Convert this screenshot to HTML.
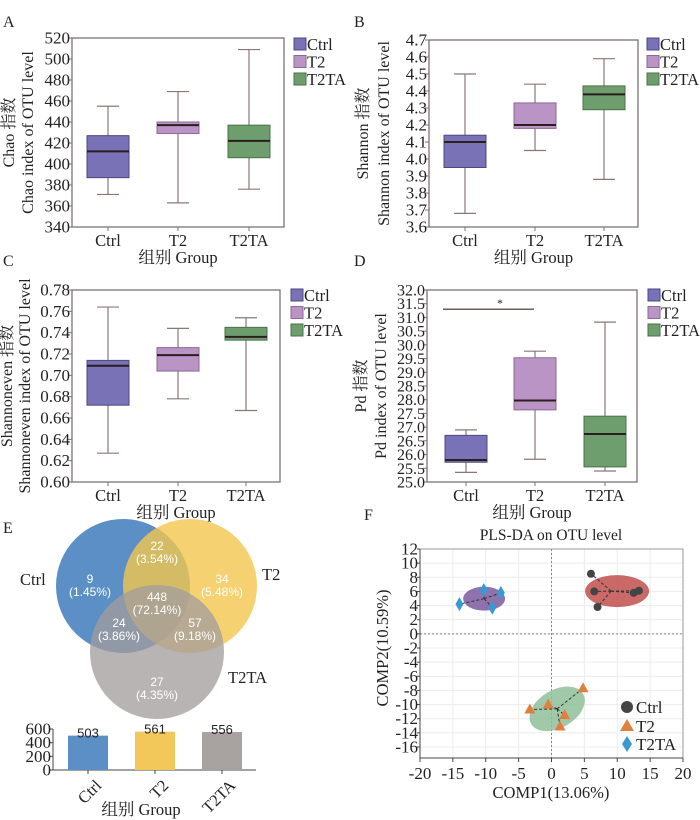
<!DOCTYPE html>
<html><head><meta charset="utf-8"><style>
body{margin:0;background:#fff;}
svg{display:block;font-family:"Liberation Serif","Noto Serif CJK SC","Noto Sans CJK SC",serif;}
.sans{font-family:"Liberation Sans","Noto Sans CJK SC",sans-serif;}
</style></head><body>
<svg id="fig" width="700" height="820" viewBox="0 0 700 820" xmlns="http://www.w3.org/2000/svg"></svg>
<script>
// ---------- data ----------
const groups = ["Ctrl","T2","T2TA"];
const chaoData = [[371,387,412,427,455],[363,429,437,440,469],[376,406,422,437,509]];
const chaoTicks = [340,360,380,400,420,440,460,480,500,520];
const shannonData = [[3.68,3.95,4.10,4.14,4.50],[4.05,4.18,4.20,4.33,4.44],[3.88,4.29,4.38,4.43,4.59]];
const shannonTicks = [3.6,3.7,3.8,3.9,4.0,4.1,4.2,4.3,4.4,4.5,4.6,4.7];
const evenData = [[0.627,0.672,0.709,0.714,0.764],[0.678,0.704,0.719,0.726,0.744],[0.667,0.733,0.736,0.745,0.754]];
const evenTicks = [0.60,0.62,0.64,0.66,0.68,0.70,0.72,0.74,0.76,0.78];
const pdData = [[25.35,25.72,25.80,26.70,26.90],[25.83,27.63,27.97,29.53,29.77],[25.40,25.55,26.75,27.40,30.83]];
const pdTicks = [25.0,25.5,26.0,26.5,27.0,27.5,28.0,28.5,29.0,29.5,30.0,30.5,31.0,31.5,32.0];
const pdSig = 31.3;
const vennCounts = [503,561,556];
const vennTicks = [0,200,400,600];
const ctrlX = [6,6.5,7,12.5,13.3];
const ctrlY = [8.5,6,3.8,5.8,6.1];
const t2X = [-3.3,-0.5,2,1.3,4.8];
const t2Y = [-10.7,-10,-11.5,-13.1,-7.7];
const t2taX = [-14,-10.3,-9,-7.7];
const t2taY = [4.2,6.2,3.7,5.8];
const plsXTicks = [-20,-15,-10,-5,0,5,10,15,20];
const plsYTicks = [-16,-14,-12,-10,-8,-6,-4,-2,0,2,4,6,8,10,12];

const NS = "http://www.w3.org/2000/svg";
const svg = document.getElementById("fig");
function mk(tag, attrs, parent){
  const e = document.createElementNS(NS, tag);
  for (const k in attrs) e.setAttribute(k, attrs[k]);
  (parent||svg).appendChild(e);
  return e;
}
function txt(s, x, y, size, anchor, parent, extra){
  const t = mk("text", Object.assign({x:x,y:y,"font-size":size,"text-anchor":anchor||"start",fill:"#222"}, extra||{}), parent);
  t.textContent = s;
  return t;
}
const boxColors = ["#7a72b6","#b994c5","#6f9e6e"];
const boxStroke = ["#4e4880","#8a6a96","#4b704b"];

function boxPanel(cfg, data, ticks){
  const g = mk("g", {});
  
  
  const lo = ticks[0], hi = ticks[ticks.length-1];
  const sy = v => cfg.y1 + (v-lo)/(hi-lo)*(cfg.y0-cfg.y1);
  const fr = mk("rect", {x:cfg.x0,y:cfg.y0,width:cfg.x1-cfg.x0,height:cfg.y1-cfg.y0,fill:"none",stroke:"#7d7272","stroke-width":1.3}, g);
  
  
  ticks.forEach(t=>{
    mk("line",{x1:cfg.x0-4,x2:cfg.x0,y1:sy(t),y2:sy(t),stroke:"#7d7272"},g);
    const l = txt(cfg.fmt(t), cfg.x0-2, sy(t)+5.5, cfg.fs||17, "end", g);
    
    
  });
  data.forEach((d,i)=>{
    const cx = cfg.cats[i], w = 42, cw = 22;
    const bg = mk("g",{},g);
    
    
    mk("line",{x1:cx,x2:cx,y1:sy(d[0]),y2:sy(d[4]),stroke:"#8a7878","stroke-width":1.2},bg);
    mk("line",{x1:cx-cw/2,x2:cx+cw/2,y1:sy(d[0]),y2:sy(d[0]),stroke:"#8a7878","stroke-width":1.2},bg);
    mk("line",{x1:cx-cw/2,x2:cx+cw/2,y1:sy(d[4]),y2:sy(d[4]),stroke:"#8a7878","stroke-width":1.2},bg);
    mk("rect",{x:cx-w/2,y:sy(d[3]),width:w,height:sy(d[1])-sy(d[3]),fill:boxColors[i],stroke:boxStroke[i],"stroke-width":1},bg);
    mk("line",{x1:cx-w/2,x2:cx+w/2,y1:sy(d[2]),y2:sy(d[2]),stroke:"#2a1e1e","stroke-width":2},bg);
    mk("line",{x1:cx,x2:cx,y1:cfg.y1,y2:cfg.y1+4,stroke:"#7d7272"},g);
    const xl = txt(groups[i], cx, cfg.y1+19, 16.5, "middle", g);
    
    
  });
  const xt = txt("组别  Group", (cfg.x0+cfg.x1)/2, cfg.y1+36, 16.5, "middle", g);
  
  
  const yc = (cfg.y0+cfg.y1)/2;
  const y1t = txt(cfg.t1, 0, 0, 16, "middle", g, {transform:`translate(${cfg.tx1},${yc}) rotate(-90)`});
  
  
  const y2t = txt(cfg.t2, 0, 0, 16, "middle", g, {transform:`translate(${cfg.tx2},${yc}) rotate(-90)`});
  
  
  const pl = txt(cfg.letter, cfg.lx, cfg.ly, 16, "start", g);
  
  
  groups.forEach((gname,i)=>{
    const le = mk("g",{},g);
    
    
    const ly = cfg.legY + i*17.5;
    mk("rect",{x:cfg.legX,y:ly-6,width:12,height:12,fill:boxColors[i],stroke:boxStroke[i]},le);
    txt(gname, cfg.legX+13, ly+6, 16.5, "start", le);
  });
  return sy;
}

boxPanel({name:"panel-a-chao",x0:72,x1:284,y0:38,y1:227,cats:[108,178,249],fmt:v=>v,
  t1:"Chao 指数",t2:"Chao index of OTU level",tx1:14,tx2:33,letter:"A",lx:3,ly:27,legX:294,legY:44}, chaoData, chaoTicks);
boxPanel({name:"panel-b-shannon",x0:429,x1:638,y0:40,y1:227,cats:[465,535,604],fmt:v=>v.toFixed(1),
  t1:"Shannon 指数",t2:"Shannon index of OTU level",tx1:368,tx2:389,letter:"B",lx:354,ly:27,legX:647,legY:44}, shannonData, shannonTicks);
boxPanel({name:"panel-c-shannoneven",x0:72,x1:280,y0:290,y1:482,cats:[108,178,246],fmt:v=>v.toFixed(2),
  t1:"Shannoneven 指数",t2:"Shannoneven index of OTU level",tx1:12,tx2:30,letter:"C",lx:3,ly:266,legX:291,legY:295}, evenData, evenTicks);
const sd = boxPanel({name:"panel-d-pd",x0:427,x1:637,y0:290,y1:482,cats:[466,535,605],fmt:v=>v.toFixed(1),fs:16,
  t1:"Pd 指数",t2:"Pd index of OTU level",tx1:366,tx2:386,letter:"D",lx:354,ly:266,legX:648,legY:295}, pdData, pdTicks);
{
  const sl = mk("line",{x1:443,x2:534,y1:sd(pdSig),y2:sd(pdSig),stroke:"#6a5e5e","stroke-width":1.5});
  
  
  const st = txt("*", 500, sd(pdSig)-2, 12, "middle");
  
  
}

// ---------- Panel E: Venn ----------
{
  const g = mk("g",{});
  
  
  const el = txt("E", 3, 533, 16, "start", g);
  
  
  const c1 = mk("circle",{cx:123,cy:586,r:67,fill:"#5b8fc6"},g);
  
  
  const c2 = mk("circle",{cx:190,cy:586,r:67,fill:"#f2c64e","fill-opacity":0.8},g);
  
  
  const c3 = mk("circle",{cx:157,cy:652,r:67,fill:"#a39d9c","fill-opacity":0.76},g);
  
  
  [["Ctrl",20,585],["T2",262,580],["T2TA",228,683]].forEach(([s,x,y])=>{
    const t = txt(s,x,y,16.5,"start",g);
    
    
  });
  [["22","(3.54%)",157,550],["9","(1.45%)",90,583],["34","(5.48%)",222,583],["448","(72.14%)",157,601],
   ["24","(3.86%)",119,627],["57","(9.18%)",195,627],["27","(4.35%)",157,686]].forEach(([a,b,x,y])=>{
    const t1 = txt(a,x,y,12,"middle",g,{fill:"#fff",class:"sans"});
    
    
    const t2 = txt(b,x,y+13,12,"middle",g,{fill:"#fff",class:"sans"});
    
    
  });
  const by0 = 770, by1 = 729, ax0 = 53;
  const sy = v => by0 - v/600*(by0-by1);
  const barX = [88,155,222];
  const barCol = ["#5b8fc6","#f2c85a","#a8a2a1"];
  mk("line",{x1:ax0,x2:ax0,y1:by1,y2:by0,stroke:"#444"},g);
  mk("line",{x1:ax0,x2:256,y1:by0,y2:by0,stroke:"#444"},g);
  vennTicks.forEach(t=>{
    mk("line",{x1:ax0-3,x2:ax0,y1:sy(t),y2:sy(t),stroke:"#444"},g);
    const l = txt(String(t), ax0-2, sy(t)+5.5, 17, "end", g);
    
    
  });
  vennCounts.forEach((v,i)=>{
    const b = mk("rect",{x:barX[i]-20,y:sy(v),width:40,height:by0-sy(v),fill:barCol[i]},g);
    
    
    const vl = txt(String(v), barX[i], sy(v)+2, 13, "middle", g, {class:"sans"});
    
    
    mk("line",{x1:barX[i],x2:barX[i],y1:by0,y2:by0+4,stroke:"#444"},g);
    const xl = txt(groups[i], barX[i]+6, by0+8, 16.5, "end", g, {transform:`rotate(-45 ${barX[i]+6} ${by0+8})`, "dominant-baseline":"hanging"});
    
    
  });
  const xt = txt("组别  Group", 141, 815, 16.5, "middle", g);
  
  
}

// ---------- Panel F: PLS-DA ----------
{
  const g = mk("g",{});
  
  
  const px0 = 420, px1 = 683, py0 = 549, pyb = 758;
  const sx = v => px0 + (v+20)/40*(px1-px0);
  const sy = v => py0 + (12-v)/28*(747-py0);
  const fl = txt("F", 364, 520, 16, "start", g);
  
  
  const tt = txt("PLS-DA on OTU level", 551, 540, 15.5, "middle", g);
  
  
  plsXTicks.forEach(t=>{ mk("line",{x1:sx(t),x2:sx(t),y1:py0,y2:pyb,stroke:"#ececec"},g); });
  plsYTicks.forEach(t=>{ mk("line",{x1:px0,x2:px1,y1:sy(t),y2:sy(t),stroke:"#ececec"},g); });
  mk("line",{x1:sx(0),x2:sx(0),y1:py0,y2:pyb,stroke:"#888","stroke-dasharray":"2,2"},g);
  mk("line",{x1:px0,x2:px1,y1:sy(0),y2:sy(0),stroke:"#888","stroke-dasharray":"2,2"},g);
  const fr = mk("rect",{x:px0,y:py0,width:px1-px0,height:pyb-py0,fill:"none",stroke:"#999"},g);
  
  
  mk("line",{x1:px0,x2:px1,y1:pyb,y2:pyb,stroke:"#444"},g);
  mk("line",{x1:px0,x2:px0,y1:py0,y2:pyb,stroke:"#444"},g);
  plsXTicks.forEach(t=>{
    mk("line",{x1:sx(t),x2:sx(t),y1:pyb,y2:pyb+4,stroke:"#444"},g);
    const l = txt(String(t), sx(t), pyb+21, 17, "middle", g);
    
    
  });
  plsYTicks.forEach(t=>{
    mk("line",{x1:px0-3,x2:px0,y1:sy(t),y2:sy(t),stroke:"#444"},g);
    const l = txt(String(t), px0-2, sy(t)+5.5, 17, "end", g);
    
    
  });
  const xa = txt("COMP1(13.06%)", 551, 798, 16.5, "middle", g);
  
  
  const ya = txt("COMP2(10.59%)", 0, 0, 16.5, "middle", g, {transform:`translate(388,${sy(-2)}) rotate(-90)`});
  
  

  const mean = a => a.reduce((s,v)=>s+v,0)/a.length;
  const sets = [
    {name:"ctrl",X:ctrlX,Y:ctrlY,ell:"#c0504d",rot:0,rx:32,ry:16,shape:"circle",col:"#444"},
    {name:"t2",X:t2X,Y:t2Y,ell:"#8fbf9a",rot:-30,rx:30,ry:19,shape:"tri",col:"#e08040"},
    {name:"t2ta",X:t2taX,Y:t2taY,ell:"#7b5b9e",rot:0,rx:21,ry:12,shape:"dia",col:"#3a9ad0"}
  ];
  sets.forEach(s=>{
    const cx = mean(s.X), cy = mean(s.Y);
    const e = mk("ellipse",{cx:sx(cx)+(s.name==="ctrl"?6:0),cy:sy(cy),rx:s.rx,ry:s.ry,fill:s.ell,"fill-opacity":0.85,transform:`rotate(${s.rot} ${sx(cx)} ${sy(cy)})`},g);
    
    
    s.X.forEach((x,i)=>{
      mk("line",{x1:sx(cx),y1:sy(cy),x2:sx(x),y2:sy(s.Y[i]),stroke:"#333","stroke-dasharray":"3,2"},g);
    });
    s.X.forEach((x,i)=>{
      const X = sx(x), Y = sy(s.Y[i]);
      let p;
      if (s.shape==="circle") p = mk("circle",{cx:X,cy:Y,r:4,fill:s.col},g);
      else if (s.shape==="tri") p = mk("polygon",{points:`${X},${Y-6} ${X-5.5},${Y+4} ${X+5.5},${Y+4}`,fill:s.col},g);
      else p = mk("polygon",{points:`${X},${Y-7} ${X-4},${Y} ${X},${Y+7} ${X+4},${Y}`,fill:s.col},g);
      
      
    });
  });
  const lg = [["Ctrl",707,"circle","#444"],["T2",726,"tri","#e08040"],["T2TA",744,"dia","#3a9ad0"]];
  lg.forEach(([n,y,sh,c])=>{
    const le = mk("g",{},g);
    
    
    const X = 627;
    if (sh==="circle") mk("circle",{cx:X,cy:y,r:6,fill:c},le);
    else if (sh==="tri") mk("polygon",{points:`${X},${y-7} ${X-7},${y+5} ${X+7},${y+5}`,fill:c},le);
    else mk("polygon",{points:`${X},${y-8} ${X-5},${y} ${X},${y+8} ${X+5},${y}`,fill:c},le);
    txt(n, 636, y+6, 17, "start", le);
  });
}
</script>
</body></html>
